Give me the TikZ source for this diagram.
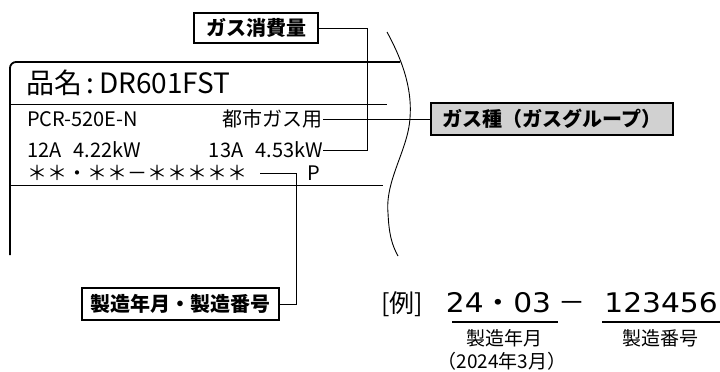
\documentclass[tikz,border=0pt]{standalone}
\usepackage{fontspec}
\usepackage{graphicx}
\setmainfont{Noto Sans CJK JP}
\newfontfamily\dvsans{DejaVu Sans}
\newcommand\pxsize[1]{\fontsize{#1}{#1}\selectfont}
\usetikzlibrary{positioning,calc}

\tikzset{
  leader/.style={line width=0.9pt},
  platerule/.style={line width=0.9pt},
  platetext/.style={inner sep=0, font=\pxsize{20}},
  callout/.style={draw, line width=1.8pt, inner sep=0, minimum height=32pt,
    font=\pxsize{20}\bfseries},
  underbar/.style={line width=2pt},
}

\begin{document}
\begin{tikzpicture}[x=1pt, y=-1pt]
  \useasboundingbox (0,0) rectangle (720,372);

  \draw[line width=1.8pt, rounded corners=6pt] (400,62) -- (10,62) -- (10,255);
  \draw[platerule] (10,104) -- (387,104);
  \draw[platerule] (10,185) -- (383,185);
  \draw[line width=0.9pt] (387,32) .. controls (405,65) and (412,92) .. (410,118)
    .. controls (408,150) and (385,180) .. (388,213)
    .. controls (389,235) and (392,245) .. (398,256);

  \node[platetext, font=\pxsize{28}, anchor=west] (hinmei) at (26,83) {品名\,:\,DR601FST};
  \node[platetext, anchor=west] (model) at (27,119) {PCR-520E-N};
  \node[platetext, anchor=east] (kind) at (323,119) {都市ガス用};
  \node[platetext, anchor=west] (rate12) at (27,150) {12A\hspace{0.6em}4.22kW};
  \node[platetext, anchor=east] (power) at (323,150) {13A\hspace{0.6em}4.53kW};
  \node[platetext, anchor=west] (stars) at (27,173) {＊＊・＊＊－＊＊＊＊＊};
  \node[platetext] (pmark) at (314,173) {P};

  \node[callout, minimum width=124pt, minimum height=30pt] (gasvol) at (256,28) {ガス消費量};
  \node[callout, fill=black!18, minimum width=242pt] (gastype) at (552,119) {ガス種（ガスグループ）};
  \node[callout, minimum width=197pt] (serial) at (180.5,304) {製造年月・製造番号};

  \coordinate (volbend) at (367,28);
  \coordinate (serbend) at (296,173);
  \draw[leader] (kind.east) -- (gastype.west);
  \draw[leader] (power.east) -| (volbend) -- (gasvol.east);
  \draw[leader] ([xshift=13pt]stars.east) -- (serbend) |- (serial.east);

  \node[platetext, font=\pxsize{25}, anchor=base west] (rei) at (381,312) {[例]};
  \node[platetext, font=\pxsize{27}, anchor=base] (ym) at (498.5,312)
    {\scalebox{1.1}[1]{\dvsans 24{\rmfamily ・}03}};
  \node[platetext, font=\pxsize{27}, anchor=base] (dash) at (572,312) {－};
  \node[platetext, font=\pxsize{27}, anchor=base east] (serno) at (718,312)
    {\scalebox{1.1}[1]{\dvsans 123456}};
  \draw[underbar] (452,322) -- (558,322);
  \draw[underbar] (602,322) -- (720,322);
  \node[platetext, font=\pxsize{19}] (ymlabel) at (504,338) {製造年月};
  \node[platetext, font=\pxsize{19}] (ymexample) at (502,361) {（2024年3月）};
  \node[platetext, font=\pxsize{19}] (snlabel) at (660,338) {製造番号};
\end{tikzpicture}
\end{document}
